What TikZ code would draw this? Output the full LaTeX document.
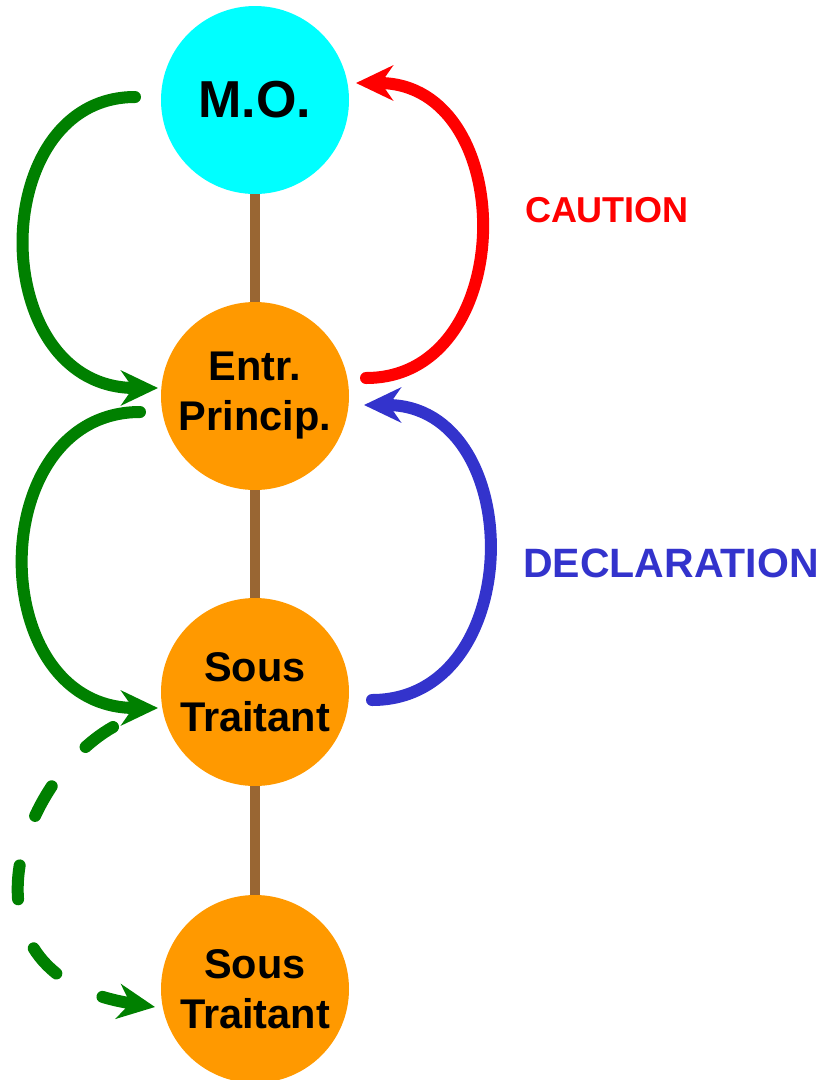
\documentclass[tikz,border=0pt]{standalone}
\usepackage{fontspec}
\setmainfont{Liberation Sans}
\usetikzlibrary{arrows.meta,calc}
\definecolor{moCyan}{HTML}{00FFFF}
\definecolor{partyOrange}{HTML}{FF9900}
\definecolor{flowGreen}{HTML}{008000}
\definecolor{flowRed}{HTML}{FF0000}
\definecolor{flowBlue}{HTML}{3333CC}
\definecolor{linkBrown}{HTML}{996633}
\tikzset{
  party/.style={circle, minimum size=188pt, inner sep=0pt, align=center,
    font=\bfseries\fontsize{41.5}{50}\selectfont},
  link/.style={draw=linkBrown, line width=10pt},
  flow/.style={line width=12pt, line cap=round,
    -{Stealth[length=37pt,width=35pt,inset=12pt]}},
  flowlabel/.style={font=\bfseries\fontsize{#1}{#1}\selectfont, inner sep=0pt},
}
\begin{document}
\begin{tikzpicture}[x=1pt,y=-1pt]
\useasboundingbox (0,0) rectangle (822,1080);

% parties
\node[party, fill=moCyan, font=\bfseries\fontsize{52}{60}\selectfont] (mo) at (255,100) {M.O.};
\node[party, fill=partyOrange] (ep) at (255,396) {Entr.\\Princip.};
\node[party, fill=partyOrange] (st1) at (255,692) {Sous\\Traitant};
\node[party, fill=partyOrange] (st2) at (255,989) {Sous\\Traitant};

% chain links between the parties
\draw[link] (mo) -- (ep);
\draw[link] (ep) -- (st1);
\draw[link] (st1) -- (st2);

% labels
\node[flowlabel=36, text=flowRed] (caution) at (607,210) {CAUTION};
\node[flowlabel=41, text=flowBlue] (decl) at (671,563) {DECLARATION};

% flows on the left
\draw[flow, draw=flowGreen]
  ($(mo)+(-120,-3)$) .. controls ($(mo)+(-270,-3)$) and ($(ep)+(-270,-8)$) .. ($(ep)+(-97,-8)$);
\draw[flow, draw=flowGreen]
  ($(ep)+(-115,16)$) .. controls ($(ep)+(-272,16)$) and ($(st1)+(-272,16)$) .. ($(st1)+(-97,16)$);
\draw[flow, draw=flowGreen, dash pattern=on 34pt off 52pt]
  ($(st1)+(-142,35)$) .. controls ($(st1)+(-240,91)$) and ($(st2)+(-303,-13)$) .. ($(st2)+(-100,18)$);

% flows on the right
\draw[flow, draw=flowRed]
  ($(ep)+(111,-18)$) .. controls ($(ep)+(265,-18)$) and ($(mo)+(265,-17)$) .. ($(mo)+(101,-17)$);
\draw[flow, draw=flowBlue]
  ($(st1)+(117,8)$) .. controls ($(st1)+(273,8)$) and ($(ep)+(273,9)$) .. ($(ep)+(109,9)$);
\end{tikzpicture}
\end{document}
